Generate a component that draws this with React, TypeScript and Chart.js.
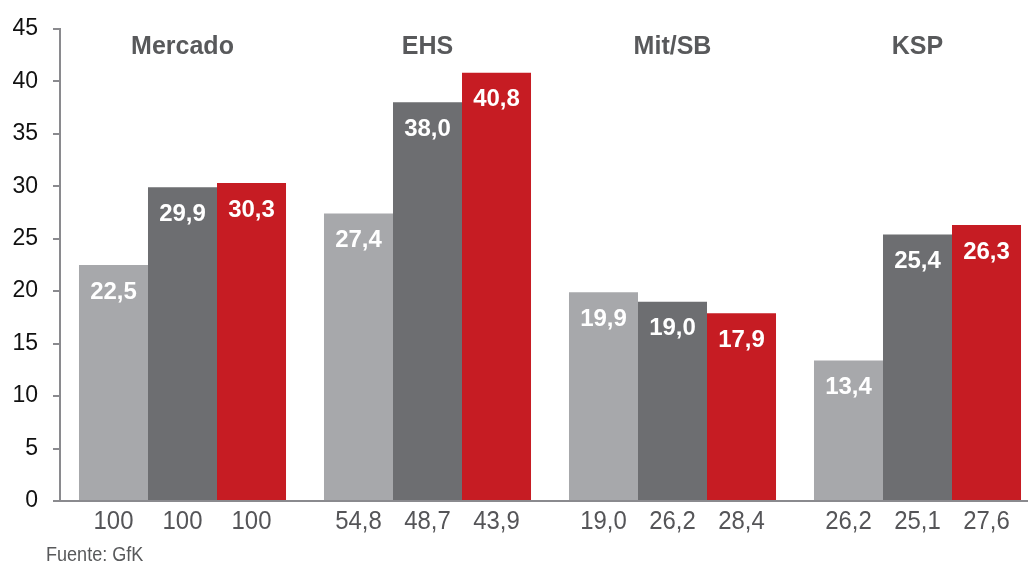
import { useEffect, useRef } from "react";
import Chart from "chart.js/auto";
import type { Plugin } from "chart.js";

const CATEGORIES = ["Mercado", "EHS", "Mit/SB", "KSP"];

// bar heights (values shown inside bars)
const SERIES_A = [22.5, 27.4, 19.9, 13.4];
const SERIES_B = [29.9, 38.0, 19.0, 25.4];
const SERIES_C = [30.3, 40.8, 17.9, 26.3];

// numbers printed under each bar
const BASE_A = ["100", "54,8", "19,0", "26,2"];
const BASE_B = ["100", "48,7", "26,2", "25,1"];
const BASE_C = ["100", "43,9", "28,4", "27,6"];

const Y_MIN = 0;
const Y_MAX = 45;
const Y_STEP = 5;

const COLORS = ["#a7a8ab", "#6d6e71", "#c61c23"];
const AXIS = "#8a8a8e";
const FONT = "'Liberation Sans', Arial, sans-serif";

const fmt = (v: number) => v.toFixed(1).replace(".", ",");

const decorations: Plugin<"bar"> = {
  id: "decorations",
  afterDatasetsDraw(chart) {
    const { ctx, chartArea, scales } = chart;
    const bases = [BASE_A, BASE_B, BASE_C];
    ctx.save();
    ctx.textAlign = "center";
    ctx.textBaseline = "middle";

    // group titles
    ctx.fillStyle = "#58595b";
    ctx.font = `bold 25px ${FONT}`;
    CATEGORIES.forEach((c, i) => {
      ctx.fillText(c, scales.x.getPixelForValue(i), 47);
    });

    chart.data.datasets.forEach((ds, di) => {
      const meta = chart.getDatasetMeta(di);
      meta.data.forEach((bar, i) => {
        const { x, y } = bar.getProps(["x", "y"], true) as { x: number; y: number };
        // value inside bar
        ctx.fillStyle = "#ffffff";
        ctx.font = `bold 24px ${FONT}`;
        ctx.fillText(fmt(ds.data[i] as number), x, y + 27);
        // base under bar, slightly condensed
        ctx.save();
        ctx.fillStyle = "#555558";
        ctx.font = `26px ${FONT}`;
        ctx.translate(x, chartArea.bottom + 21);
        ctx.scale(0.92, 1);
        ctx.fillText(bases[di][i], 0, 0);
        ctx.restore();
      });
    });

    // source note, condensed
    ctx.save();
    ctx.textAlign = "left";
    ctx.fillStyle = "#58595b";
    ctx.font = `21px ${FONT}`;
    ctx.translate(46, 555);
    ctx.scale(0.86, 1);
    ctx.fillText("Fuente: GfK", 0, 0);
    ctx.restore();
    ctx.restore();
  },
};

export default function App() {
  const canvasRef = useRef<HTMLCanvasElement>(null);

  useEffect(() => {
    document.body.style.margin = "0";
    if (!canvasRef.current) return;
    const chart = new Chart(canvasRef.current, {
      type: "bar",
      data: {
        labels: CATEGORIES,
        datasets: [SERIES_A, SERIES_B, SERIES_C].map((d, i) => ({
          label: `s${i}`,
          data: d,
          backgroundColor: COLORS[i],
          borderWidth: 0,
          categoryPercentage: 0.845,
          barPercentage: 1,
        })),
      },
      options: {
        animation: false,
        responsive: true,
        maintainAspectRatio: false,
        layout: { padding: { left: 0, top: 27, right: 5, bottom: 65 } },
        plugins: { legend: { display: false }, tooltip: { enabled: false } },
        scales: {
          x: {
            grid: { display: false },
            ticks: { display: false },
            border: { color: AXIS, width: 2 },
            afterFit: (s) => {
              s.height = 0;
            },
          },
          y: {
            min: Y_MIN,
            max: Y_MAX,
            ticks: {
              stepSize: Y_STEP,
              color: "#111",
              padding: 15,
              font: { family: FONT, size: 23 },
            },
            grid: {
              drawOnChartArea: false,
              drawTicks: true,
              tickLength: 7,
              color: AXIS,
              lineWidth: 2,
            },
            border: { color: AXIS, width: 2 },
            afterFit: (s) => {
              s.width = 60;
            },
          },
        },
      },
      plugins: [decorations],
    });
    return () => chart.destroy();
  }, []);

  return (
    <div style={{ width: 1028, height: 566, overflow: "hidden", position: "relative" }}>
      <div style={{ width: 1045, height: 566, position: "absolute", left: 0, top: 0 }}>
        <canvas ref={canvasRef} />
      </div>
    </div>
  );
}
